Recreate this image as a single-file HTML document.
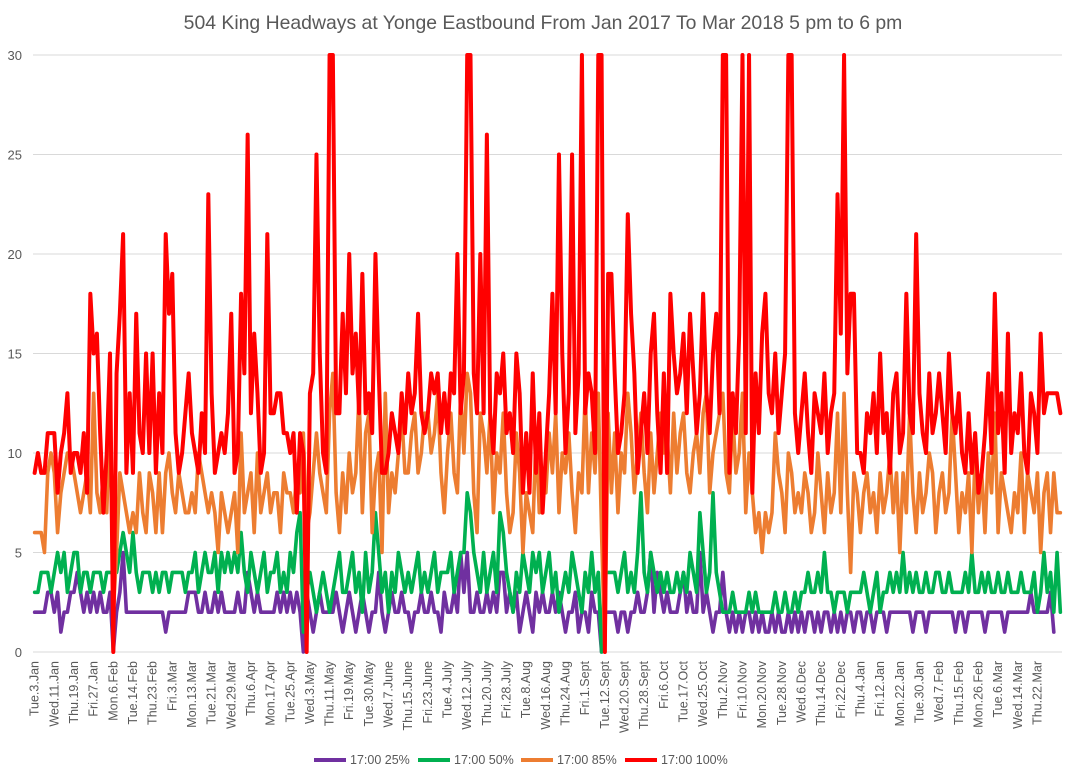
<!DOCTYPE html>
<html><head><meta charset="utf-8">
<style>
body{margin:0;background:#fff;font-family:"Liberation Sans",sans-serif;}
svg{display:block}
</style></head>
<body>
<svg id="chart" width="1073" height="784" xmlns="http://www.w3.org/2000/svg">
<text x="543" y="29" text-anchor="middle" font-size="19.4" fill="#595959" font-family="Liberation Sans, sans-serif">504 King Headways at Yonge Eastbound From Jan 2017 To Mar 2018 5 pm to 6 pm</text>
<g id="grid"></g><g id="yticks"></g><g id="xlabels"></g><g id="series"></g><g id="legend"></g>
</svg>
<script>
const xLabels=["Tue.3.Jan","Wed.11.Jan","Thu.19.Jan","Fri.27.Jan","Mon.6.Feb","Tue.14.Feb","Thu.23.Feb","Fri.3.Mar","Mon.13.Mar","Tue.21.Mar","Wed.29.Mar","Thu.6.Apr","Mon.17.Apr","Tue.25.Apr","Wed.3.May","Thu.11.May","Fri.19.May","Tue.30.May","Wed.7.June","Thu.15.June","Fri.23.June","Tue.4.July","Wed.12.July","Thu.20.July","Fri.28.July","Tue.8.Aug","Wed.16.Aug","Thu.24.Aug","Fri.1.Sept","Tue.12.Sept","Wed.20.Sept","Thu.28.Sept","Fri.6.Oct","Tue.17.Oct","Wed.25.Oct","Thu.2.Nov","Fri.10.Nov","Mon.20.Nov","Tue.28.Nov","Wed.6.Dec","Thu.14.Dec","Fri.22.Dec","Thu.4.Jan","Fri.12.Jan","Mon.22.Jan","Tue.30.Jan","Wed.7.Feb","Thu.15.Feb","Mon.26.Feb","Tue.6.Mar","Wed.14.Mar","Thu.22.Mar"];
const yTicks=[0,5,10,15,20,25,30];
const seriesNames=["17:00 25%","17:00 50%","17:00 85%","17:00 100%"];
const p25=[2,2,2,2,3,3,2,3,1,2,2,3,3,4,3,2,3,2,3,2,3,2,2,3,0,2,3,5,2,2,2,2,2,2,2,2,2,2,2,2,1,2,2,2,2,2,2,3,3,3,2,2,3,2,2,3,2,3,2,2,2,2,3,2,2,4,3,2,3,2,2,2,2,2,3,2,3,2,3,2,3,2,0,3,2,1,2,3,2,2,2,2,3,2,1,2,3,2,1,2,3,2,1,2,2,4,2,1,2,3,2,2,3,2,2,1,2,2,3,2,2,3,2,2,1,3,2,2,3,2,5,3,5,2,2,3,2,2,3,2,3,2,4,4,2,3,2,3,1,2,3,2,1,3,2,3,2,2,3,2,3,2,1,2,2,3,1,2,2,1,3,2,2,0,2,2,2,2,1,2,2,1,2,2,3,2,2,3,5,2,4,3,2,3,2,2,2,3,4,2,3,2,2,5,2,3,2,1,2,2,4,2,1,2,1,2,1,2,2,1,2,1,2,1,1,2,1,2,1,1,2,1,2,1,2,1,2,2,1,2,1,2,2,1,2,1,2,1,2,2,1,2,2,1,2,2,1,2,2,2,1,2,2,2,2,2,2,2,1,2,2,2,1,2,2,2,2,2,2,2,2,1,2,2,1,2,2,2,2,2,1,2,2,2,2,2,1,2,2,2,2,2,2,2,3,2,2,2,2,2,3,1];
const p50=[3,3,4,4,4,3,4,5,4,5,3,4,5,5,3,4,4,3,4,4,4,3,4,4,4,4,5,6,5,4,6,4,3,4,4,4,3,4,3,4,4,3,4,4,4,4,3,4,4,5,3,4,5,4,4,5,3,5,4,5,4,5,4,6,4,3,5,4,3,4,5,3,4,4,5,3,4,3,5,4,6,7,1,3,4,3,2,3,4,3,2,3,4,5,3,3,4,5,3,4,2,5,3,4,7,5,3,4,2,4,3,5,4,3,4,3,4,5,3,4,3,4,5,3,4,4,4,5,3,4,5,5,8,7,5,4,3,5,3,4,5,3,7,6,4,3,2,4,3,5,4,3,5,4,5,3,4,5,3,4,2,3,4,3,5,4,3,2,4,3,5,3,4,0,4,4,4,4,3,4,5,3,4,3,5,8,4,3,5,4,3,4,3,4,3,3,4,3,4,3,5,4,3,7,5,3,4,8,4,3,2,2,2,3,2,2,2,2,3,2,3,2,2,2,2,2,3,2,2,3,2,2,3,2,3,3,4,3,3,4,3,5,3,3,2,3,3,3,2,3,3,3,3,4,3,2,3,4,2,3,3,4,3,4,3,5,3,4,3,4,3,3,4,3,3,4,4,3,3,4,3,3,3,3,4,3,5,3,3,4,3,4,3,3,4,3,3,4,3,3,3,4,3,3,3,4,2,3,5,3,4,2,5,2];
const p85=[6,6,6,5,9,10,9,6,8,9,10,10,9,8,7,8,9,7,13,8,7,9,7,12,2,5,9,8,7,6,7,6,9,7,6,9,8,6,9,6,9,10,8,7,9,8,7,7,8,7,10,9,8,7,8,7,5,8,7,6,7,8,5,11,7,8,9,6,10,7,8,9,7,8,8,6,9,8,8,7,9,8,11,6,7,9,11,9,8,7,12,14,8,6,9,7,10,8,9,13,7,11,12,6,9,10,5,13,7,9,8,10,12,9,9,11,12,9,10,12,12,10,11,13,9,7,10,12,9,8,13,10,14,13,8,6,12,11,9,12,7,10,9,12,8,6,7,11,9,5,8,7,6,11,7,9,8,11,9,12,7,10,9,11,8,6,9,8,13,8,11,9,13,6,0,12,8,11,7,10,9,13,11,8,10,12,9,7,11,8,10,12,10,11,8,12,9,11,12,9,8,10,11,9,12,13,8,10,11,12,13,9,8,12,9,10,13,7,10,8,6,7,5,7,6,7,11,9,8,6,10,9,7,8,7,9,8,6,7,10,8,6,9,7,8,12,7,13,8,4,9,8,6,8,9,7,8,6,9,7,8,10,7,9,5,9,7,12,8,6,9,7,8,10,9,6,8,9,7,8,12,9,6,8,7,9,5,10,7,9,6,10,8,12,6,9,8,7,6,8,7,10,6,9,8,7,9,5,8,9,6,9,7,7];
const p100=[9,10,9,9,11,11,11,8,10,11,13,9,10,10,9,11,8,18,15,16,11,7,10,15,0,14,17,21,9,13,9,17,11,10,15,10,15,9,13,10,21,17,19,11,9,10,12,14,11,10,9,12,10,23,13,9,10,11,10,12,17,9,10,18,14,26,12,16,13,9,10,21,12,12,13,13,11,11,10,11,7,11,10,0,13,14,25,15,10,9,30,30,12,12,17,13,20,14,16,12,19,12,13,11,20,14,9,9,10,12,11,10,13,11,14,12,13,17,12,11,12,14,13,14,11,13,11,14,13,20,12,14,30,30,14,12,20,12,26,12,10,14,13,15,11,12,10,15,13,8,11,8,14,9,12,7,10,13,18,12,25,15,10,13,25,11,14,30,12,14,13,10,30,30,0,19,19,14,10,11,13,22,17,14,9,11,13,10,15,17,12,9,14,9,18,15,13,14,16,12,17,14,11,13,18,13,11,15,17,12,30,30,9,13,11,16,30,11,30,8,14,11,16,18,13,12,15,11,13,15,30,30,12,10,12,14,11,9,13,12,11,14,10,12,13,23,16,30,14,18,18,10,10,9,12,11,13,10,15,11,12,9,13,14,10,11,18,12,11,21,13,11,10,14,11,12,14,12,10,15,12,11,13,10,9,12,9,11,8,9,11,14,10,18,11,13,9,16,10,12,11,14,10,9,13,12,10,16,12,13,13,13,13,12];
const colors=["#7030a0","#00b050","#ed7d31","#ff0000"];
const NS="http://www.w3.org/2000/svg";
const X0=33,X1=1062,Y0=652,Y1=55,YMAX=30;
const N=p100.length;
const bw=(X1-X0)/N;
function xs(i){return X0+bw*(i+0.5);}
function ys(v){return Y0-(v/YMAX)*(Y0-Y1);}
function mk(tag,attrs,parent){const e=document.createElementNS(NS,tag);for(const k in attrs)e.setAttribute(k,attrs[k]);parent.appendChild(e);return e;}
const grid=document.getElementById('grid'),yt=document.getElementById('yticks');
yTicks.forEach(t=>{
  const l=mk('line',{x1:X0,x2:X1,y1:ys(t),y2:ys(t),stroke:'#d9d9d9','stroke-width':1},grid);
  
  
  const tx=mk('text',{x:22,y:ys(t)+5,'text-anchor':'end','font-size':13,fill:'#595959'},yt);
  tx.textContent=t;
  
  
});
const xl=document.getElementById('xlabels');
xLabels.forEach((s,k)=>{
  const x=xs(k*6)+4;
  const tx=mk('text',{x:0,y:0,transform:`translate(${x},${Y0+9}) rotate(-90)`,'text-anchor':'end','font-size':12.5,fill:'#595959'},xl);
  tx.textContent=s;
  
  
});
const sg=document.getElementById('series');
[p25,p50,p85,p100].forEach((arr,si)=>{
  const pts=arr.map((v,i)=>xs(i).toFixed(2)+','+ys(v).toFixed(2)).join(' ');
  const pl=mk('polyline',{points:pts,fill:'none',stroke:colors[si],'stroke-width':si==3?4:3.6,'stroke-linejoin':'round','stroke-linecap':'round'},sg);
  
  
});
const lg=document.getElementById('legend');
const lx=[314,418,521,625];
seriesNames.forEach((n,i)=>{
  const g=mk('g',{},lg);
  
  
  mk('line',{x1:lx[i],x2:lx[i]+32,y1:760,y2:760,stroke:colors[i],'stroke-width':4},g);
  const t=mk('text',{x:lx[i]+36,y:764,'font-size':12.5,fill:'#595959'},g);
  t.textContent=n;
});
</script>
</body></html>
